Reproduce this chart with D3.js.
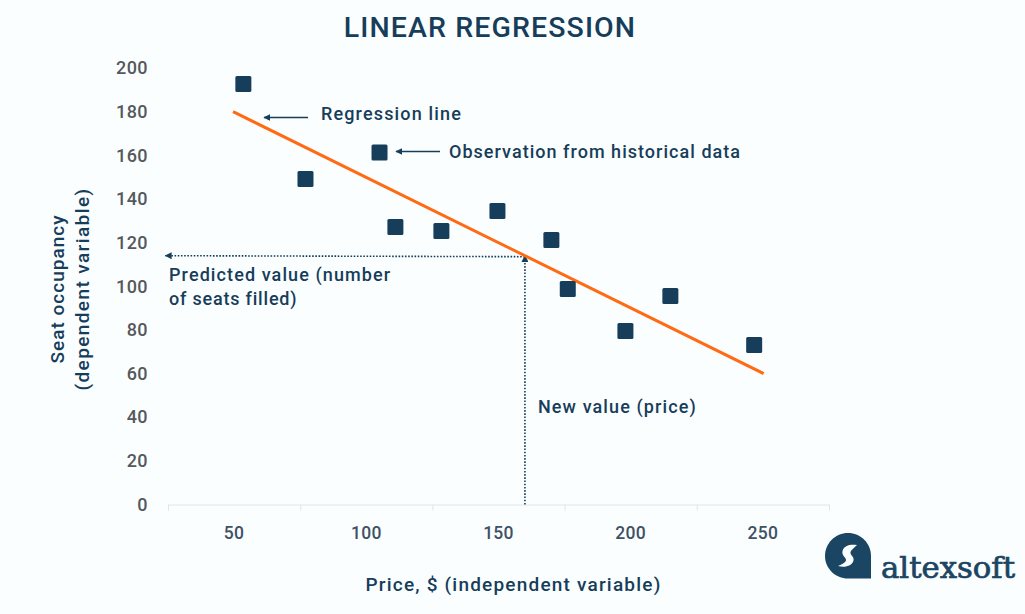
<!DOCTYPE html>
<html>
<head>
<meta charset="utf-8">
<script src="https://d3js.org/d3.v7.min.js"></script>
<style>
html,body{margin:0;padding:0;background:#fbfeff;}
svg{display:block;}
text{font-family:"Roboto",sans-serif;}
</style>
</head>
<body>
<div id="chart"></div>
<script>
var prices = [53.5, 77, 105, 111, 128.4, 149.6, 170, 176.2, 198, 215, 246.7];
var seats = [192.7, 149.1, 161.3, 127.1, 125.3, 134.5, 121.2, 98.7, 79.5, 95.5, 73.1];
var linePrices = [49.6, 250.3];
var lineSeats = [180, 60];
var newPrice = 160;
var predictedSeats = 114;
var yTicks = [0, 20, 40, 60, 80, 100, 120, 140, 160, 180, 200];
var xLabels = [50, 100, 150, 200, 250];
var xBounds = [25, 75, 125, 175, 225, 275];

var navy = "#163d5a", orange = "#ff6a13";
var width = 1025, height = 614;

var svg = d3.select("#chart").append("svg").attr("width", width).attr("height", height);

var x = d3.scaleLinear().domain([25, 275]).range([168, 829]);
var y = d3.scaleLinear().domain([0, 200]).range([504.5, 68]);

var defs = svg.append("defs");
defs.append("marker").attr("id", "head").attr("viewBox", "0 0 10 10")
  .attr("refX", 9).attr("refY", 5)
  .attr("markerWidth", 7).attr("markerHeight", 7).attr("markerUnits", "userSpaceOnUse")
  .attr("orient", "auto-start-reverse")
  .append("path").attr("d", "M0,0L10,5L0,10Z").attr("fill", navy);

// x axis, ticks sit between the labels
var xAxis = svg.append("g").attr("transform", "translate(0," + y(0) + ")")
  .call(d3.axisBottom(x).tickValues(xBounds).tickSize(6).tickFormat(""));
xAxis.selectAll("path,line").attr("stroke", "#e2e5e8").attr("stroke-width", 1);

svg.append("g").selectAll("text").data(xLabels).join("text")
  .attr("x", function(d){ return x(d); }).attr("y", 539)
  .attr("text-anchor", "middle").attr("font-size", 17.5).attr("font-weight", 500)
  .attr("letter-spacing", 0.3)
  .attr("fill", "#3f5164").text(function(d){ return d; });

var yAxis = svg.append("g").attr("transform", "translate(151,0)")
  .call(d3.axisLeft(y).tickValues(yTicks).tickSize(0));
yAxis.select("path").remove();
yAxis.selectAll("text").attr("font-size", 18).attr("font-weight", 500)
  .attr("letter-spacing", 0.4)
  .attr("fill", "#55585c").attr("font-family", "Roboto");

// dotted guides
svg.append("line")
  .attr("x1", x(newPrice)).attr("y1", y(0))
  .attr("x2", x(newPrice)).attr("y2", y(predictedSeats))
  .attr("stroke", navy).attr("stroke-width", 1.6).attr("stroke-dasharray", "1.6 1.6")
  .attr("marker-end", "url(#head)");
svg.append("line")
  .attr("x1", x(newPrice)).attr("y1", y(predictedSeats) + 1)
  .attr("x2", x(24)).attr("y2", y(predictedSeats))
  .attr("stroke", navy).attr("stroke-width", 1.6).attr("stroke-dasharray", "1.6 1.6")
  .attr("marker-end", "url(#head)");

// regression line
svg.append("path").datum(d3.zip(linePrices, lineSeats))
  .attr("d", d3.line().x(function(d){ return x(d[0]); }).y(function(d){ return y(d[1]); }))
  .attr("fill", "none").attr("stroke", orange).attr("stroke-width", 3);

// observations
svg.append("g").selectAll("rect").data(d3.zip(prices, seats)).join("rect")
  .attr("x", function(d){ return x(d[0]) - 8; })
  .attr("y", function(d){ return y(d[1]) - 8; })
  .attr("width", 16).attr("height", 16).attr("rx", 1.5)
  .attr("fill", navy);

// callout arrows
svg.append("line").attr("x1", 308).attr("y1", 117.5).attr("x2", 264).attr("y2", 117.5)
  .attr("stroke", navy).attr("stroke-width", 1.6).attr("marker-end", "url(#head)");
svg.append("line").attr("x1", 440).attr("y1", 151.5).attr("x2", 396).attr("y2", 151.5)
  .attr("stroke", navy).attr("stroke-width", 1.6).attr("marker-end", "url(#head)");

function label(txt, px, py, size, anchor, spacing) {
  return svg.append("text").attr("x", px).attr("y", py)
    .attr("font-size", size).attr("fill", navy)
    .attr("font-weight", 500)
    .attr("letter-spacing", spacing)
    .attr("text-anchor", anchor || "start").text(txt);
}

label("LINEAR REGRESSION", 490, 37, 28.5, "middle", 1.1);
label("Regression line", 321, 120, 18, "start", 1.15);
label("Observation from historical data", 449, 158, 18, "start", 1.03);
label("Predicted value (number", 169, 281, 18, "start", 1.1);
label("of seats filled)", 169, 305, 18, "start", 0.8);
label("New value (price)", 538, 413, 18, "start", 1.1);
label("Price, $ (independent variable)", 513.5, 591, 19, "middle", 1.2);

svg.append("text").attr("transform", "translate(64,289) rotate(-90)")
  .attr("text-anchor", "middle").attr("font-size", 19).attr("font-weight", 500)
  .attr("letter-spacing", 1)
  .attr("fill", navy).text("Seat occupancy");
svg.append("text").attr("transform", "translate(89,289) rotate(-90)")
  .attr("text-anchor", "middle").attr("font-size", 19).attr("font-weight", 500)
  .attr("letter-spacing", 1.4)
  .attr("fill", navy).text("(dependent variable)");

// logo
var logo = svg.append("g").attr("transform", "translate(825,533)");
logo.append("path")
  .attr("d", "M23,0C35.7,0,46,10.300,46,23V45.500H23C10.300,45.500,0,35.500,0,23C0,10.300,10.300,0,23,0Z")
  .attr("fill", "#1a4563");
logo.append("path")
  .attr("d", "M32,12C26,11,19,12,17.500,18C16.500,23,21,24,21,27C21,29,18,31,13,33C20,35,27,33,28.500,27.500C29.500,23.500,25,22.500,25.500,19C26,17,29,15,32,12Z")
  .attr("fill", "#fbfeff");
svg.append("text").attr("x", 881).attr("y", 578)
  .attr("font-size", 29)
  .attr("style", "font-family:'DejaVu Serif',serif")
  .attr("stroke", "#1a4563").attr("stroke-width", 0.7)
  .attr("textLength", 134).attr("lengthAdjust", "spacingAndGlyphs")
  .attr("fill", "#1a4563").text("altexsoft");
</script>
</body>
</html>
